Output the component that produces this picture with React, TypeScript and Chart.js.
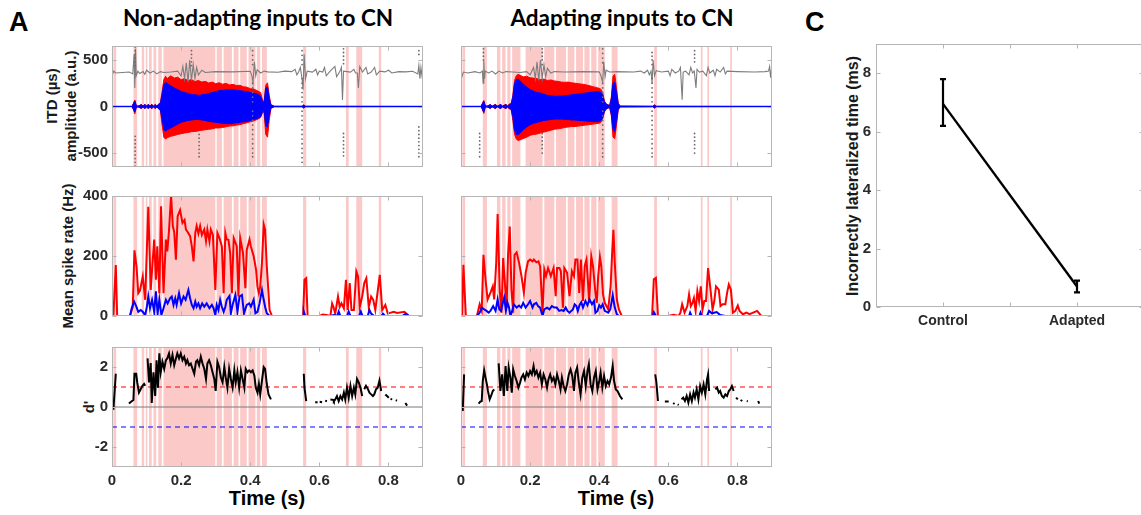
import React, { useEffect, useRef } from 'react';
import { Chart, registerables } from 'chart.js';
Chart.register(...registerables);

const FONT = "'Liberation Sans', Arial, Helvetica, sans-serif";
const TICK_COLOR = '#2a2a2a';
const SPAN_COLOR = '#fcc9c9';
const RED = '#ff0000';
const BLUE = '#0000ff';

// ---------- shared axes ----------
const X_RANGE = [0, 0.9];
const X_TICKS = [0, 0.2, 0.4, 0.6, 0.8];
const X_TICK_LABELS = ['0', '0.2', '0.4', '0.6', '0.8'];
const WAVE_Y_TICKS = [-500, 0, 500];
const WAVE_Y_LABELS = ['-500', '0', '500'];
const RATE_Y_TICKS = [0, 200, 400];
const RATE_Y_LABELS = ['0', '200', '400'];
const D_Y_TICKS = [-2, 0, 2];
const D_Y_LABELS = ['-2', '0', '2'];
const D_REF_HI = 1;
const D_REF_LO = -1;
const D_ZERO = 0;

// ---------- highlighted (incorrectly lateralized) periods [start, end] s ----------
const SPANS_L = [[0.004, 0.012], [0.062, 0.073], [0.086, 0.093], [0.098, 0.102], [0.107, 0.115], [0.12, 0.128], [0.134, 0.144], [0.149, 0.299], [0.303, 0.318], [0.323, 0.347], [0.352, 0.366], [0.371, 0.39], [0.395, 0.415], [0.419, 0.429], [0.434, 0.448], [0.553, 0.562], [0.677, 0.685], [0.707, 0.724], [0.772, 0.779]];
const SPANS_R = [[0.004, 0.012], [0.063, 0.075], [0.104, 0.114], [0.119, 0.129], [0.134, 0.143], [0.148, 0.172], [0.187, 0.236], [0.241, 0.27], [0.275, 0.304], [0.309, 0.328], [0.333, 0.353], [0.357, 0.372], [0.377, 0.392], [0.397, 0.416], [0.436, 0.453], [0.559, 0.567], [0.694, 0.699], [0.713, 0.718], [0.779, 0.784]];

// ---------- sound waveform envelopes (a.u.) ----------
const WAVE_T_L = [0, .058, .062, .066, .07, .075, .085, .09, .095, .1, .105, .11, .115, .12, .125, .13, .135, .14, .145, .15, .155, .16, .17, .18, .19, .2, .21, .22, .23, .24, .25, .26, .27, .28, .29, .3, .31, .32, .33, .34, .35, .36, .37, .38, .39, .4, .41, .42, .43, .435, .44, .445, .45, .455, .46, .47, .55, .555, .56, .9];
const RED_HI_L = [2, 2, 35, 70, 15, 3, 22, 4, 25, 4, 25, 4, 25, 4, 22, 5, 28, 40, 160, 290, 325, 300, 330, 305, 315, 288, 300, 278, 290, 268, 280, 262, 270, 252, 262, 245, 255, 240, 248, 232, 238, 225, 228, 212, 208, 192, 188, 170, 150, 80, 40, 230, 255, 120, 20, 3, 3, 18, 3, 2];
const RED_LO_L = [-2, -2, -35, -80, -15, -3, -22, -4, -25, -4, -25, -4, -25, -4, -22, -5, -28, -40, -200, -330, -350, -335, -320, -312, -300, -292, -285, -280, -270, -268, -262, -255, -250, -245, -240, -230, -230, -225, -218, -210, -208, -200, -195, -185, -175, -165, -155, -140, -120, -70, -60, -300, -330, -150, -20, -3, -3, -18, -3, -2];
const BLUE_HI_L = [1, 1, 30, 60, 12, 2, 20, 3, 22, 3, 22, 3, 22, 3, 20, 4, 24, 35, 130, 240, 260, 248, 222, 200, 182, 162, 150, 140, 130, 125, 120, 125, 130, 140, 150, 160, 170, 175, 180, 180, 180, 175, 170, 165, 160, 150, 145, 135, 110, 60, 40, 200, 210, 90, 15, 2, 2, 15, 2, 1];
const BLUE_LO_L = [-1, -1, -30, -60, -12, -2, -20, -3, -22, -3, -22, -3, -22, -3, -20, -4, -24, -35, -140, -250, -262, -250, -230, -210, -190, -170, -160, -150, -145, -140, -140, -145, -150, -160, -165, -170, -175, -180, -185, -185, -180, -175, -170, -165, -160, -150, -140, -130, -110, -60, -40, -210, -220, -90, -15, -2, -2, -15, -2, -1];

const WAVE_T_R = [0, .058, .062, .066, .07, .075, .085, .09, .1, .105, .115, .12, .13, .135, .14, .145, .15, .155, .16, .165, .17, .18, .19, .2, .21, .22, .23, .24, .25, .26, .27, .28, .29, .3, .31, .32, .33, .34, .35, .36, .37, .38, .39, .4, .405, .41, .415, .42, .43, .435, .44, .445, .45, .455, .46, .555, .56, .565, .9];
const RED_HI_R = [2, 2, 35, 65, 12, 3, 22, 4, 24, 4, 24, 4, 24, 4, 28, 30, 120, 280, 330, 345, 338, 318, 325, 308, 305, 298, 290, 295, 280, 285, 275, 270, 262, 260, 262, 255, 250, 245, 240, 235, 225, 215, 205, 195, 185, 150, 60, 30, 10, 100, 330, 345, 200, 40, 5, 3, 18, 3, 2];
const RED_LO_R = [-2, -2, -35, -75, -12, -3, -22, -4, -24, -4, -24, -4, -24, -4, -28, -30, -150, -300, -350, -365, -360, -345, -330, -310, -300, -295, -285, -275, -265, -255, -245, -240, -235, -225, -220, -215, -215, -210, -205, -200, -195, -190, -185, -180, -170, -130, -60, -30, -10, -100, -330, -345, -200, -40, -5, -3, -18, -3, -2];
const BLUE_HI_R = [1, 1, 30, 58, 10, 2, 20, 3, 21, 3, 21, 3, 21, 3, 24, 26, 100, 250, 290, 295, 280, 240, 210, 180, 165, 150, 145, 130, 120, 115, 110, 110, 112, 115, 120, 125, 130, 135, 140, 145, 150, 155, 160, 160, 150, 120, 50, 25, 8, 80, 250, 260, 150, 30, 4, 2, 15, 2, 1];
const BLUE_LO_R = [-1, -1, -30, -62, -10, -2, -20, -3, -21, -3, -21, -3, -21, -3, -24, -26, -110, -260, -300, -300, -290, -250, -220, -195, -180, -170, -160, -150, -145, -140, -135, -135, -135, -138, -140, -145, -145, -150, -150, -155, -158, -160, -162, -160, -150, -120, -50, -25, -8, -80, -250, -270, -150, -30, -4, -2, -15, -2, -1];
const ZERO_LINE = [[0, 0], [0.9, 0]];

// ---------- ITD trace (µs) ----------
const ITD_L = [[0, 330], [.005, 380], [.01, 360], [.03, 365], [.05, 370], [.06, 350], [.064, 560], [.066, 200], [.068, 620], [.07, 330], [.075, 380], [.08, 355], [.09, 375], [.095, 345], [.1, 390], [.11, 360], [.12, 380], [.13, 350], [.14, 375], [.15, 365], [.17, 370], [.19, 380], [.2, 330], [.205, 430], [.21, 300], [.215, 470], [.22, 260], [.225, 500], [.23, 280], [.235, 450], [.24, 300], [.245, 420], [.25, 340], [.26, 390], [.27, 365], [.3, 375], [.35, 372], [.4, 378], [.405, 330], [.408, 250], [.412, 480], [.416, 330], [.42, 395], [.43, 360], [.44, 380], [.45, 372], [.48, 368], [.5, 380], [.52, 375], [.53, 400], [.535, 340], [.54, 370], [.545, 420], [.55, 300], [.553, 180], [.556, 560], [.56, 300], [.565, 380], [.58, 370], [.59, 400], [.595, 340], [.6, 380], [.61, 370], [.615, 420], [.62, 330], [.63, 375], [.645, 430], [.65, 320], [.66, 380], [.664, 420], [.667, 70], [.67, 380], [.69, 370], [.7, 400], [.705, 360], [.71, 360], [.713, 200], [.717, 430], [.725, 370], [.735, 420], [.74, 350], [.75, 370], [.76, 420], [.765, 340], [.775, 380], [.79, 372], [.8, 390], [.81, 360], [.83, 375], [.85, 372], [.87, 378], [.885, 350], [.888, 440], [.891, 300], [.894, 420], [.897, 330], [.9, 380]];
const ITD_R = [[0, 290], [.007, 370], [.02, 360], [.04, 375], [.055, 360], [.062, 380], [.064, 250], [.066, 490], [.068, 300], [.07, 380], [.08, 360], [.09, 380], [.1, 350], [.11, 380], [.12, 360], [.13, 375], [.15, 370], [.17, 365], [.19, 375], [.2, 340], [.21, 420], [.215, 300], [.22, 480], [.225, 280], [.23, 500], [.235, 300], [.24, 450], [.245, 320], [.25, 410], [.26, 360], [.27, 375], [.3, 370], [.35, 375], [.4, 372], [.405, 330], [.41, 260], [.413, 480], [.417, 320], [.42, 390], [.43, 370], [.45, 375], [.5, 370], [.52, 380], [.53, 360], [.54, 390], [.545, 340], [.55, 380], [.553, 250], [.556, 500], [.56, 330], [.565, 385], [.58, 370], [.6, 380], [.605, 330], [.61, 400], [.62, 360], [.63, 380], [.635, 420], [.64, 72], [.643, 370], [.65, 380], [.66, 340], [.665, 420], [.67, 360], [.675, 380], [.68, 200], [.683, 400], [.69, 370], [.7, 380], [.71, 330], [.715, 420], [.72, 360], [.73, 390], [.735, 330], [.74, 400], [.75, 370], [.76, 420], [.765, 350], [.77, 380], [.8, 375], [.85, 370], [.88, 375], [.89, 380], [.893, 430], [.896, 310], [.899, 420], [.9, 380]];
const ITD_DOT_T_L = [0.067, 0.23, 0.252, 0.407, 0.55, 0.67, 0.888];
const ITD_DOT_V_L = [
  [-640, -600, -560, -520, -480, -440, -400, -360, -320, 440, 480, 520, 560, 600, 640],
  [440, 480, 520, 560, 600],
  [-300, -340, -380, -420, -460, -500, -540],
  [600, 550, 500, 450, 250, 200, 150, 100, 50, -50, -100, -150, -200, -250, -300, -350, -400, -450, -500, -540],
  [600, 550, 500, 450, 300, 250, 200, 150, 100, 50, -50, -100, -150, -200, -250, -300, -350, -400, -450, -500, -550, -600],
  [620, 580, 540, 500, 460, -290, -330, -370, -410, -450, -490, -530],
  [-220, -260, -300, -340, -380, -420, -460, -500, -540, 560, 600],
];
const ITD_DOT_T_R = [0.054, 0.065, 0.235, 0.41, 0.553, 0.676, 0.9];
const ITD_DOT_V_R = [
  [-290, -330, -370, -410, -450, -490, -540],
  [620, 580, 540, 500],
  [620, 580, 540, 500, 450, -290, -330, -370, -410, -450, -500],
  [620, 570, 520, 470, 250, 200, 150, 100, 50, -50, -100, -150, -200, -250, -300, -350, -400, -450, -500, -540],
  [580, 540, 500, 450, 300, 250, 200, 150, 100, 50, -50, -100, -150, -200, -250, -300, -350, -400, -450, -500, -540],
  [600, 560, 520, 480, -290, -330, -370, -410, -450, -500],
  [620, 580, 540, 500, 460, 420, -290, -330, -370, -410, -450, -500],
];

// ---------- mean spike rate (Hz) ----------
const RATE_RED_L = [[0, 0], [.004, 0], [.011, 170], [.015, 0], [.052, 0], [.06, 30], [.065, 219], [.071, 165], [.076, 76], [.081, 85], [.089, 132], [.096, 54], [.105, 364], [.112, 87], [.122, 255], [.127, 121], [.131, 232], [.137, 76], [.142, 366], [.149, 76], [.156, 255], [.16, 215], [.165, 285], [.171, 402], [.176, 300], [.18, 280], [.185, 188], [.19, 333], [.197, 353], [.204, 310], [.21, 320], [.214, 288], [.219, 280], [.226, 266], [.231, 232], [.236, 182], [.241, 277], [.245, 300], [.25, 275], [.255, 300], [.26, 270], [.267, 288], [.272, 250], [.276, 288], [.282, 249], [.286, 288], [.292, 270], [.299, 87], [.305, 277], [.311, 260], [.318, 232], [.323, 76], [.328, 277], [.332, 255], [.337, 254], [.342, 210], [.347, 76], [.352, 260], [.357, 245], [.361, 232], [.366, 65], [.371, 260], [.379, 210], [.386, 93], [.39, 220], [.398, 255], [.402, 232], [.41, 199], [.417, 154], [.421, 98], [.425, 76], [.429, 98], [.434, 177], [.439, 305], [.443, 288], [.448, 165], [.456, 20], [.463, 0], [.553, 0], [.557, 121], [.562, 126], [.566, 0], [.6, 0], [.61, 5], [.62, 3], [.632, 0], [.637, 42], [.641, 30], [.646, 8], [.654, 65], [.659, 30], [.664, 42], [.671, 25], [.677, 121], [.682, 20], [.688, 110], [.693, 20], [.7, 20], [.707, 149], [.712, 132], [.717, 30], [.724, 65], [.73, 110], [.736, 126], [.743, 30], [.75, 65], [.756, 54], [.762, 20], [.775, 137], [.782, 20], [.791, 37], [.798, 8], [.815, 14], [.825, 10], [.846, 14], [.859, 0], [.9, 0]];
const RATE_BLUE_L = [[0, 0], [.052, 0], [.057, 26], [.064, 48], [.07, 33], [.076, 14], [.083, 20], [.089, 14], [.096, 3], [.101, 31], [.105, 65], [.11, 26], [.116, 54], [.122, 14], [.127, 82], [.132, 8], [.137, 54], [.143, 3], [.149, 26], [.156, 54], [.161, 42], [.168, 59], [.173, 65], [.178, 37], [.183, 59], [.187, 37], [.194, 76], [.2, 42], [.207, 65], [.213, 54], [.221, 87], [.226, 59], [.231, 37], [.236, 26], [.241, 48], [.245, 31], [.25, 42], [.255, 26], [.261, 42], [.267, 31], [.274, 42], [.282, 26], [.289, 37], [.294, 26], [.299, 3], [.303, 37], [.308, 20], [.313, 54], [.318, 31], [.323, 14], [.328, 31], [.332, 54], [.34, 67], [.344, 9], [.35, 42], [.357, 70], [.363, 14], [.369, 65], [.376, 70], [.382, 9], [.39, 37], [.397, 42], [.402, 31], [.41, 54], [.415, 9], [.421, 14], [.427, 42], [.434, 87], [.439, 54], [.443, 31], [.448, 9], [.456, 0], [.553, 0], [.555, 15], [.559, 0], [.632, 0], [.642, 3], [.652, 0], [.656, 15], [.661, 0], [.68, 0], [.685, 15], [.69, 0], [.715, 0], [.72, 15], [.725, 0], [.74, 0], [.745, 20], [.75, 8], [.758, 0], [.78, 0], [.784, 8], [.79, 0], [.84, 0], [.85, 8], [.86, 0], [.9, 0]];
const RATE_RED_R = [[0, 0], [.003, 0], [.007, 171], [.014, 0], [.046, 0], [.054, 39], [.06, 17], [.065, 204], [.071, 122], [.077, 55], [.085, 77], [.092, 99], [.096, 55], [.102, 180], [.106, 340], [.112, 88], [.117, 11], [.122, 193], [.127, 110], [.132, 28], [.136, 199], [.141, 298], [.146, 88], [.151, 11], [.155, 204], [.161, 212], [.168, 177], [.175, 133], [.182, 77], [.187, 144], [.194, 182], [.2, 188], [.207, 182], [.211, 188], [.218, 179], [.224, 182], [.229, 166], [.236, 11], [.241, 155], [.246, 133], [.252, 160], [.26, 133], [.268, 160], [.274, 66], [.278, 160], [.285, 160], [.289, 149], [.295, 28], [.299, 160], [.307, 144], [.314, 66], [.321, 149], [.327, 133], [.331, 188], [.337, 188], [.342, 77], [.347, 188], [.353, 50], [.358, 166], [.363, 188], [.367, 122], [.371, 44], [.377, 199], [.382, 166], [.389, 77], [.393, 44], [.397, 133], [.402, 197], [.406, 166], [.411, 72], [.416, 44], [.426, 22], [.433, 99], [.437, 200], [.441, 287], [.445, 177], [.451, 55], [.457, 22], [.465, 0], [.553, 0], [.558, 122], [.564, 127], [.57, 0], [.6, 0], [.615, 4], [.63, 0], [.635, 11], [.64, 39], [.647, 11], [.655, 33], [.66, 72], [.665, 33], [.67, 44], [.674, 60], [.679, 17], [.684, 83], [.689, 50], [.694, 99], [.699, 22], [.704, 50], [.709, 50], [.715, 160], [.721, 99], [.728, 22], [.733, 50], [.738, 99], [.746, 88], [.751, 33], [.757, 39], [.765, 39], [.77, 77], [.775, 105], [.781, 88], [.787, 11], [.794, 17], [.801, 35], [.806, 17], [.816, 6], [.826, 11], [.835, 6], [.857, 17], [.869, 0], [.9, 0]];
const RATE_BLUE_R = [[0, 0], [.046, 0], [.054, 11], [.06, 28], [.067, 22], [.074, 17], [.08, 11], [.085, 17], [.093, 33], [.1, 17], [.106, 55], [.111, 22], [.116, 17], [.12, 39], [.125, 61], [.13, 17], [.134, 46], [.139, 28], [.143, 0], [.148, 17], [.153, 39], [.161, 28], [.168, 35], [.174, 28], [.18, 44], [.187, 28], [.194, 39], [.2, 50], [.207, 28], [.211, 39], [.218, 44], [.223, 33], [.229, 28], [.236, 0], [.241, 22], [.249, 28], [.256, 22], [.263, 33], [.27, 28], [.277, 28], [.284, 17], [.291, 20], [.297, 17], [.303, 28], [.308, 17], [.314, 11], [.319, 17], [.324, 22], [.329, 39], [.334, 33], [.338, 17], [.343, 36], [.348, 46], [.353, 28], [.36, 50], [.366, 36], [.372, 55], [.379, 39], [.385, 50], [.389, 11], [.395, 17], [.4, 36], [.405, 28], [.41, 39], [.416, 17], [.426, 11], [.432, 22], [.439, 69], [.445, 28], [.451, 6], [.457, 0], [.555, 0], [.558, 13], [.564, 0], [.66, 0], [.663, 11], [.667, 0], [.69, 0], [.693, 11], [.697, 0], [.712, 0], [.718, 17], [.726, 9], [.74, 13], [.75, 3], [.765, 0], [.9, 0]];

// ---------- d' (null = gap) ----------
const DPRIME_L = [[.004, -.14], [.011, 1.66], [.03, null], [.049, .17], [.057, .29], [.062, .35], [.065, 1.66], [.07, 1.66], [.073, 1.23], [.078, .72], [.083, .89], [.088, 1.06], [.093, 1.15], [.096, 1.06], [.1, null], [.103, 2.43], [.107, 1.23], [.112, 2.2], [.115, .2], [.12, 1.74], [.125, .55], [.129, 2.34], [.133, .97], [.137, 2.68], [.141, 1.74], [.146, 2.26], [.151, 1.91], [.156, 2.34], [.16, 2.43], [.165, 2.68], [.17, 2.17], [.175, 2.6], [.18, 2.09], [.185, 2.43], [.189, 2.68], [.194, 2.43], [.199, 2.68], [.204, 2.34], [.209, 2.51], [.214, 2.17], [.218, 2.34], [.223, 2.09], [.228, 2.17], [.233, 1.91], [.238, 1.66], [.243, 2.26], [.247, 2.34], [.252, 2.09], [.257, 2.51], [.262, 2.17], [.267, 1.91], [.272, 1.4], [.276, 2.17], [.281, 2.34], [.286, 2.09], [.291, 1.74], [.296, 1.4], [.3, .8], [.305, 2.26], [.31, 2.0], [.315, 1.49], [.32, 1.23], [.325, 2.0], [.329, 1.49], [.334, .97], [.339, 1.91], [.344, 1.4], [.349, .97], [.354, 1.83], [.358, 1.23], [.363, 1.74], [.368, .97], [.373, 1.83], [.378, 1.4], [.383, .97], [.387, 1.91], [.392, 1.74], [.397, 1.83], [.402, 1.74], [.407, 1.83], [.412, 1.57], [.416, .97], [.421, .72], [.425, 1.15], [.429, .63], [.434, 1.32], [.439, 2.0], [.443, 1.91], [.448, 1.15], [.453, .63], [.46, .38], [.5, null], [.555, 1.66], [.557, .97], [.562, .29], [.575, null], [.588, .24], [.595, .24], [.598, null], [.601, .26], [.608, .24], [.612, null], [.617, .32], [.622, .29], [.627, null], [.632, .38], [.64, .36], [.642, .29], [.646, .38], [.651, .55], [.656, .29], [.661, .55], [.666, .38], [.671, .72], [.675, .38], [.68, .97], [.685, .46], [.69, 1.06], [.695, .55], [.7, .97], [.704, .63], [.709, 1.4], [.714, 1.23], [.719, .97], [.724, .55], [.727, null], [.73, .89], [.735, 1.06], [.74, .92], [.745, .72], [.75, .63], [.755, .55], [.759, .63], [.764, .89], [.769, .97], [.774, 1.32], [.779, .8], [.785, null], [.791, .63], [.796, .55], [.801, .46], [.804, null], [.806, .4], [.811, .38], [.816, null], [.821, .34], [.825, .32], [.835, null], [.849, .2], [.854, .07]];
const DPRIME_R = [[.005, -.2], [.009, 1.63], [.03, null], [.051, .17], [.056, .27], [.06, .3], [.063, 1.3], [.067, 1.83], [.071, 1.47], [.075, 1.13], [.078, .8], [.083, .38], [.087, .55], [.092, .8], [.096, .88], [.1, null], [.109, 2.18], [.114, .8], [.119, 1.63], [.124, .55], [.129, 2.05], [.134, .8], [.138, 1.97], [.143, 1.47], [.147, .72], [.151, 1.88], [.156, 1.55], [.161, 1.3], [.166, .97], [.171, 1.22], [.175, 1.47], [.18, 1.63], [.185, 1.38], [.19, 1.72], [.195, 1.55], [.2, 1.8], [.205, 1.63], [.21, 2.05], [.214, 1.63], [.219, 1.8], [.224, 1.47], [.229, 1.72], [.234, 1.13], [.239, 1.63], [.244, 1.38], [.249, .97], [.253, 1.38], [.258, 1.63], [.263, 1.3], [.268, 1.47], [.273, 1.13], [.278, 1.63], [.283, 1.3], [.288, .88], [.292, 1.47], [.297, 1.05], [.302, .8], [.307, 1.13], [.312, 1.63], [.317, 1.88], [.322, 1.55], [.327, .8], [.331, 1.72], [.336, 1.97], [.341, 1.22], [.346, .63], [.351, 1.47], [.356, 1.8], [.361, 1.05], [.366, 1.8], [.37, 2.13], [.375, 1.13], [.38, .8], [.385, 1.47], [.39, 1.8], [.395, .88], [.4, 1.3], [.404, 1.72], [.409, .97], [.414, 1.55], [.419, 1.05], [.424, 1.3], [.429, 1.13], [.434, 1.47], [.439, 2.05], [.443, 1.3], [.448, .88], [.453, .8], [.46, .55], [.467, .38], [.5, null], [.562, 1.63], [.565, 1.3], [.57, .3], [.58, null], [.59, .27], [.601, .27], [.607, null], [.614, .2], [.618, .15], [.622, null], [.627, .13], [.63, .1], [.634, null], [.638, .38], [.643, .47], [.648, .3], [.653, .55], [.658, .22], [.663, .63], [.668, .3], [.673, .72], [.677, .47], [.682, .88], [.687, .38], [.692, 1.05], [.697, .72], [.702, 1.13], [.707, .63], [.712, 1.38], [.715, 1.63], [.718, .8], [.725, null], [.736, .88], [.741, .97], [.746, .72], [.75, .8], [.755, .55], [.76, .47], [.765, .63], [.77, .55], [.775, .8], [.779, .88], [.784, 1.05], [.789, .8], [.792, null], [.796, .47], [.801, .38], [.805, null], [.809, .35], [.814, .3], [.82, null], [.827, .3], [.83, .28], [.84, null], [.86, .3], [.863, .17]];

// ---------- panel C ----------
const C_X = [1, 2];
const C_MEAN = [6.95, 0.7];
const C_ERR_LO = [6.2, 0.5];
const C_ERR_HI = [7.8, 0.9];
const C_X_TICKS = [0.5, 1, 1.5, 2, 2.5];
const C_X_LABELS = ['', 'Control', '', 'Adapted', ''];
const C_Y_TICKS = [0, 2, 4, 6, 8];
const C_Y_LABELS = ['0', '2', '4', '6', '8'];

// ---------- helpers ----------
type XY = { x: number; y: number | null };
const pts = (a: (number | null)[][]): XY[] => a.map(([x, y]) => ({ x: x as number, y }));
const zip = (t: number[], v: number[]): XY[] => t.map((x, i) => ({ x, y: v[i] }));
const cols = (t: number[], v: number[][]): XY[] => t.flatMap((x, i) => v[i].map((y) => ({ x, y })));

const line = (data: XY[], color: string, width: number, order: number, extra: any = {}) => ({
  data, borderColor: color, backgroundColor: color, borderWidth: width, pointRadius: 0,
  tension: 0, fill: false, order, spanGaps: false, ...extra,
});

const zeroPad = (s: any) => { s.paddingLeft = 0; s.paddingRight = 0; s.paddingTop = 0; s.paddingBottom = 0; };

const spansPlugin = (spans: number[][]) => ({
  id: 'spans',
  beforeDatasetsDraw(chart: any) {
    const { ctx, chartArea: a, scales } = chart;
    ctx.save();
    ctx.fillStyle = SPAN_COLOR;
    for (const [s, e] of spans) {
      const x0 = scales.x.getPixelForValue(s);
      const x1 = scales.x.getPixelForValue(e);
      ctx.fillRect(x0, a.top, Math.max(1.5, x1 - x0), a.bottom - a.top);
    }
    ctx.restore();
  },
});

const boxPlugin = (color: string, tickLen: number) => ({
  id: 'box',
  afterDatasetsDraw(chart: any) {
    const { ctx, chartArea: a, scales } = chart;
    ctx.save();
    ctx.strokeStyle = color;
    ctx.lineWidth = 1;
    const l = Math.round(a.left) + 0.5, t = Math.round(a.top) + 0.5;
    const r = Math.round(a.right) - 0.5, b = Math.round(a.bottom) - 0.5;
    ctx.strokeRect(l, t, r - l, b - t);
    ctx.beginPath();
    for (const tk of scales.x.ticks) {
      const px = Math.round(scales.x.getPixelForValue(tk.value)) + 0.5;
      ctx.moveTo(px, b); ctx.lineTo(px, b - tickLen);
      ctx.moveTo(px, t); ctx.lineTo(px, t + tickLen);
    }
    for (const tk of scales.y.ticks) {
      const py = Math.round(scales.y.getPixelForValue(tk.value)) + 0.5;
      ctx.moveTo(l, py); ctx.lineTo(l + tickLen, py);
      ctx.moveTo(r, py); ctx.lineTo(r - tickLen, py);
    }
    ctx.stroke();
    ctx.restore();
  },
});

const errPlugin = {
  id: 'errbars',
  afterDatasetsDraw(chart: any) {
    const { ctx, scales } = chart;
    ctx.save();
    ctx.strokeStyle = '#000';
    ctx.lineWidth = 2.2;
    C_X.forEach((xv, i) => {
      const px = scales.x.getPixelForValue(xv);
      const lo = scales.y.getPixelForValue(C_ERR_LO[i]);
      const hi = scales.y.getPixelForValue(C_ERR_HI[i]);
      ctx.beginPath();
      ctx.moveTo(px, lo); ctx.lineTo(px, hi);
      ctx.moveTo(px - 3, lo); ctx.lineTo(px + 3, lo);
      ctx.moveTo(px - 3, hi); ctx.lineTo(px + 3, hi);
      ctx.stroke();
    });
    ctx.restore();
  },
};

const tickFont = { family: FONT, size: 15, weight: 'bold' as const };

const YW = 50, PT = 12, PR = 10, PB = 12, XH = 30;

function aConfig(datasets: any[], spans: number[][], yMin: number, yMax: number, yTicks: number[], yLabels: string[], showY: boolean, showX: boolean) {
  return {
    type: 'line',
    data: { datasets },
    options: {
      animation: false, responsive: false, devicePixelRatio: 1,
      layout: { padding: { top: PT, right: PR, left: 0, bottom: showX ? 0 : PB } },
      plugins: { legend: { display: false }, tooltip: { enabled: false } },
      scales: {
        x: {
          type: 'linear', min: X_RANGE[0], max: X_RANGE[1],
          afterBuildTicks: (s: any) => { s.ticks = X_TICKS.map((v) => ({ value: v })); },
          afterFit: (s: any) => { s.height = showX ? XH : 0; zeroPad(s); },
          ticks: { display: showX, autoSkip: false, maxRotation: 0, padding: 5, font: tickFont, color: TICK_COLOR, callback: (_v: any, i: number) => X_TICK_LABELS[i] },
          grid: { display: false, drawTicks: false }, border: { display: false },
        },
        y: {
          type: 'linear', min: yMin, max: yMax,
          afterBuildTicks: (s: any) => { s.ticks = yTicks.map((v) => ({ value: v })); },
          afterFit: (s: any) => { s.width = YW; zeroPad(s); },
          ticks: { display: showY, autoSkip: false, padding: 4, font: tickFont, color: TICK_COLOR, callback: (_v: any, i: number) => yLabels[i] },
          grid: { display: false, drawTicks: false }, border: { display: false },
        },
      },
    },
    plugins: [spansPlugin(spans), boxPlugin('#b5b5b5', 4)],
  };
}

const waveSets = (t: number[], rHi: number[], rLo: number[], bHi: number[], bLo: number[], itd: number[][], dotT: number[], dotV: number[][]) => [
  line(zip(t, rLo), RED, 1, 6),
  line(zip(t, rHi), RED, 1, 5, { fill: '-1' }),
  line(zip(t, bLo), BLUE, 1, 4),
  line(zip(t, bHi), BLUE, 1, 3, { fill: '-1' }),
  line(pts(ZERO_LINE), BLUE, 1, 2),
  line(pts(itd), '#7d7d7d', 1.1, 1),
  { data: cols(dotT, dotV), showLine: false, pointRadius: 0.9, pointBorderWidth: 0, pointBackgroundColor: '#6a6a6a', borderColor: '#6a6a6a', order: 0 },
];

const rateSets = (red: number[][], blue: number[][]) => [
  line(pts(red), RED, 2, 1),
  line(pts(blue), BLUE, 2, 0),
];

const dSets = (d: (number | null)[][]) => [
  line(pts([[X_RANGE[0], D_REF_HI], [X_RANGE[1], D_REF_HI]]), RED, 1.2, 3, { borderDash: [5, 4] }),
  line(pts([[X_RANGE[0], D_REF_LO], [X_RANGE[1], D_REF_LO]]), BLUE, 1.2, 3, { borderDash: [5, 4] }),
  line(pts([[X_RANGE[0], D_ZERO], [X_RANGE[1], D_ZERO]]), '#7a7a7a', 1.2, 2),
  line(pts(d), '#000000', 2, 0),
];

const cConfig = {
  type: 'line',
  data: { datasets: [line(zip(C_X, C_MEAN), '#000', 2.4, 0)] },
  options: {
    animation: false, responsive: false, devicePixelRatio: 1,
    layout: { padding: { top: 12, right: 12, left: 0, bottom: 0 } },
    plugins: { legend: { display: false }, tooltip: { enabled: false } },
    scales: {
      x: {
        type: 'linear', min: 0.5, max: 2.5,
        afterBuildTicks: (s: any) => { s.ticks = C_X_TICKS.map((v) => ({ value: v })); },
        afterFit: (s: any) => { s.height = 30; zeroPad(s); },
        ticks: { autoSkip: false, maxRotation: 0, padding: 6, font: { family: FONT, size: 14, weight: 'bold' }, color: TICK_COLOR, callback: (_v: any, i: number) => C_X_LABELS[i] },
        grid: { display: false, drawTicks: false }, border: { display: false },
      },
      y: {
        type: 'linear', min: 0, max: 9,
        afterBuildTicks: (s: any) => { s.ticks = C_Y_TICKS.map((v) => ({ value: v })); },
        afterFit: (s: any) => { s.width = 40; zeroPad(s); },
        ticks: { autoSkip: false, padding: 5, font: tickFont, color: TICK_COLOR, callback: (_v: any, i: number) => C_Y_LABELS[i] },
        grid: { display: false, drawTicks: false }, border: { display: false },
      },
    },
  },
  plugins: [boxPlugin('#b5b5b5', 4), errPlugin],
};

function Plot({ left, top, width, height, config }: { left: number; top: number; width: number; height: number; config: any }) {
  const ref = useRef<HTMLCanvasElement | null>(null);
  useEffect(() => {
    const c = new Chart(ref.current as HTMLCanvasElement, config);
    return () => c.destroy();
  }, []);
  return <canvas ref={ref} width={width} height={height} style={{ position: 'absolute', left, top, width, height }} />;
}

function APlot({ L, T, H, showX, config }: { L: number; T: number; H: number; showX: boolean; config: any }) {
  const W = 311;
  return <Plot left={L - YW} top={T - PT} width={YW + W + PR} height={PT + H + (showX ? XH : PB)} config={config} />;
}

const Txt = ({ x, y, size, family = FONT, w, children, align = 'left' as any }: any) => (
  <div style={{ position: 'absolute', left: x, top: y, width: w, textAlign: align, font: `bold ${size}px ${family}`, lineHeight: 1, whiteSpace: 'nowrap', color: '#000' }}>{children}</div>
);
const VTxt = ({ cx, cy, size, children }: any) => (
  <div style={{ position: 'absolute', left: cx, top: cy, transform: 'translate(-50%, -50%) rotate(-90deg)', font: `bold ${size}px ${FONT}`, lineHeight: 1, whiteSpace: 'nowrap', color: '#1a1a1a' }}>{children}</div>
);

export default function App() {
  const LX = 112, RX = 461;
  return (
    <div style={{ position: 'absolute', left: 0, top: 0, width: 1141, height: 515, overflow: 'hidden', background: '#fff' }}>
      <Txt x={9} y={9} size={27}>A</Txt>
      <Txt x={805} y={9} size={27}>C</Txt>
      <Txt x={58} y={7} size={22.5} w={400} align="center" family="Lato, 'Open Sans', sans-serif">Non-adapting inputs to CN</Txt>
      <Txt x={422} y={7} size={22.5} w={400} align="center" family="Lato, 'Open Sans', sans-serif">Adapting inputs to CN</Txt>

      <VTxt cx={51} cy={96} size={15}>ITD (µs)</VTxt>
      <VTxt cx={70} cy={106} size={15}>amplitude (a.u.)</VTxt>
      <VTxt cx={67} cy={256} size={15}>Mean spike rate (Hz)</VTxt>
      <VTxt cx={88} cy={407} size={15}>d'</VTxt>
      <Txt x={167} y={488} size={20} w={200} align="center">Time (s)</Txt>
      <Txt x={516} y={488} size={20} w={200} align="center">Time (s)</Txt>
      <VTxt cx={853} cy={176} size={16}>Incorrectly lateralized time (ms)</VTxt>

      <APlot L={LX} T={46} H={121} showX={false} config={aConfig(waveSets(WAVE_T_L, RED_HI_L, RED_LO_L, BLUE_HI_L, BLUE_LO_L, ITD_L, ITD_DOT_T_L, ITD_DOT_V_L), SPANS_L, -650, 650, WAVE_Y_TICKS, WAVE_Y_LABELS, true, false)} />
      <APlot L={RX} T={46} H={121} showX={false} config={aConfig(waveSets(WAVE_T_R, RED_HI_R, RED_LO_R, BLUE_HI_R, BLUE_LO_R, ITD_R, ITD_DOT_T_R, ITD_DOT_V_R), SPANS_R, -650, 650, WAVE_Y_TICKS, WAVE_Y_LABELS, false, false)} />
      <APlot L={LX} T={196} H={120} showX={false} config={aConfig(rateSets(RATE_RED_L, RATE_BLUE_L), SPANS_L, 0, 400, RATE_Y_TICKS, RATE_Y_LABELS, true, false)} />
      <APlot L={RX} T={196} H={120} showX={false} config={aConfig(rateSets(RATE_RED_R, RATE_BLUE_R), SPANS_R, 0, 400, RATE_Y_TICKS, RATE_Y_LABELS, false, false)} />
      <APlot L={LX} T={347} H={120} showX={true} config={aConfig(dSets(DPRIME_L), SPANS_L, -3, 3, D_Y_TICKS, D_Y_LABELS, true, true)} />
      <APlot L={RX} T={347} H={120} showX={true} config={aConfig(dSets(DPRIME_R), SPANS_R, -3, 3, D_Y_TICKS, D_Y_LABELS, false, true)} />

      <Plot left={836} top={32} width={320} height={305} config={cConfig} />
    </div>
  );
}
